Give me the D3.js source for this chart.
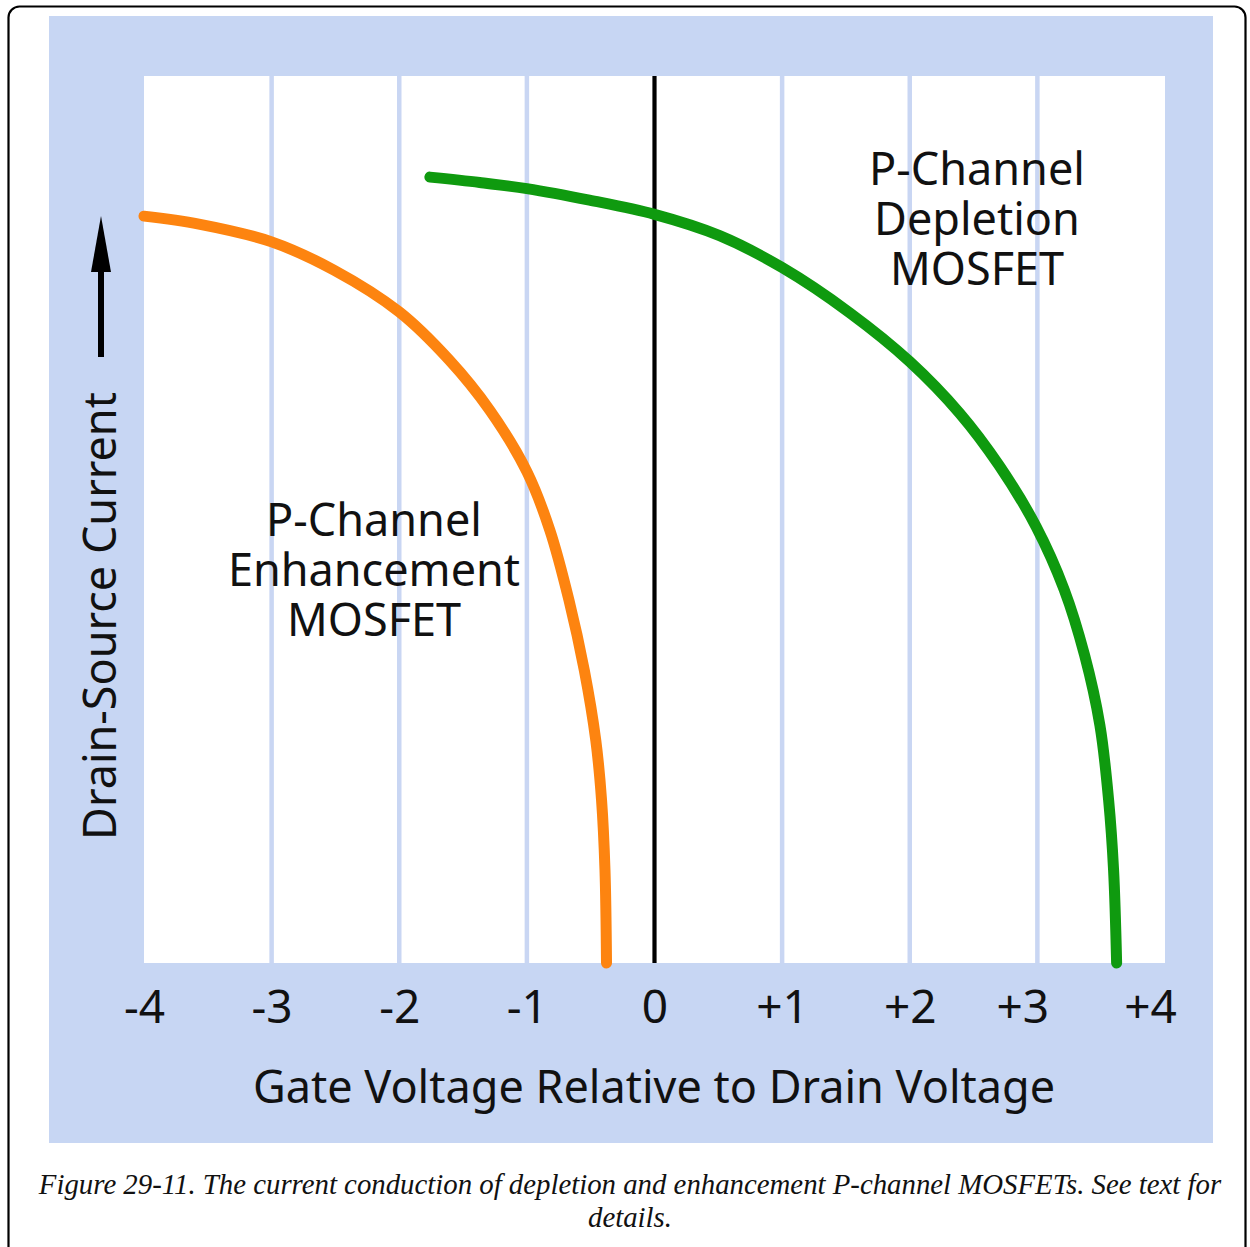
<!DOCTYPE html>
<html>
<head>
<meta charset="utf-8">
<script src="https://cdn.jsdelivr.net/npm/d3@7/dist/d3.min.js"></script>
<style>
  html, body { margin: 0; padding: 0; background: #ffffff; }
  svg { display: block; }
</style>
</head>
<body>
<div id="chart"></div>
<script>
// ---------------- data ----------------
const tickValues = [-4, -3, -2, -1, 0, 1, 2, 3, 4];
const tickLabels = ["-4", "-3", "-2", "-1", "0", "+1", "+2", "+3", "+4"];

// P-Channel Enhancement MOSFET (orange)
const enhVoltage = [-4.0, -3.57, -3.0, -2.51, -2.0, -1.61, -1.29, -1.0, -0.82, -0.67, -0.55, -0.46, -0.415, -0.388, -0.376];
const enhCurrent = [8.42, 8.33, 8.13, 7.81, 7.34, 6.80, 6.23, 5.54, 4.88, 4.09, 3.30, 2.51, 1.84, 1.05, 0.0];

// P-Channel Depletion MOSFET (green)
const depVoltage = [-1.76, -1.37, -1.0, -0.51, 0.0, 0.51, 1.0, 1.53, 2.0, 2.39, 2.70, 2.99, 3.21, 3.37, 3.49, 3.558, 3.597, 3.621];
const depCurrent = [8.86, 8.80, 8.73, 8.60, 8.44, 8.20, 7.84, 7.33, 6.78, 6.20, 5.61, 4.92, 4.21, 3.47, 2.68, 1.84, 1.05, 0.0];

const enhLabel = ["P-Channel", "Enhancement", "MOSFET"];
const depLabel = ["P-Channel", "Depletion", "MOSFET"];
const xTitle = "Gate Voltage Relative to Drain Voltage";
const yTitle = "Drain-Source Current";
const captionLines = [
  "Figure 29-11. The current conduction of depletion and enhancement P-channel MOSFETs. See text for",
  "details."
];

// ---------------- drawing ----------------
const W = 1250, H = 1247;
const panelBlue = "#c7d6f3";
const font = "'Noto Sans', 'Open Sans', sans-serif";

const svg = d3.select("#chart").append("svg")
  .attr("width", W).attr("height", H)
  .attr("viewBox", `0 0 ${W} ${H}`);

svg.append("rect").attr("width", W).attr("height", H).attr("fill", "#ffffff");

// outer frame
svg.append("rect")
  .attr("x", 8.5).attr("y", 6.5).attr("width", 1237).attr("height", 1260)
  .attr("rx", 11).attr("ry", 11)
  .attr("fill", "none").attr("stroke", "#000").attr("stroke-width", 2.2);

// blue panel
svg.append("rect")
  .attr("x", 49).attr("y", 16).attr("width", 1164).attr("height", 1127)
  .attr("fill", panelBlue);

const x = d3.scaleLinear().domain([-4, 4]).range([144, 1165]);
const y = d3.scaleLinear().domain([0, 10]).range([963, 76]);

// plot area
svg.append("rect")
  .attr("x", x(-4)).attr("y", y(10))
  .attr("width", x(4) - x(-4)).attr("height", y(0) - y(10))
  .attr("fill", "#ffffff");

// vertical grid lines
svg.append("g").selectAll("line")
  .data(tickValues.filter(v => v !== 0 && v !== -4 && v !== 4))
  .join("line")
  .attr("x1", d => x(d)).attr("x2", d => x(d))
  .attr("y1", y(10)).attr("y2", y(0))
  .attr("stroke", "#c9d6f3").attr("stroke-width", 4.5);

// zero line
svg.append("line")
  .attr("x1", x(0)).attr("x2", x(0))
  .attr("y1", y(10)).attr("y2", y(0))
  .attr("stroke", "#000").attr("stroke-width", 4.2);

// curves
const line = d3.line()
  .x(d => x(d[0])).y(d => y(d[1]))
  .curve(d3.curveCatmullRom.alpha(0.5));

svg.append("path")
  .datum(enhVoltage.map((v, i) => [v, enhCurrent[i]]))
  .attr("d", line)
  .attr("fill", "none").attr("stroke", "#fd8410")
  .attr("stroke-width", 11).attr("stroke-linecap", "round").attr("stroke-linejoin", "round");

svg.append("path")
  .datum(depVoltage.map((v, i) => [v, depCurrent[i]]))
  .attr("d", line)
  .attr("fill", "none").attr("stroke", "#0f9a0f")
  .attr("stroke-width", 11).attr("stroke-linecap", "round").attr("stroke-linejoin", "round");

// x axis tick labels
const axis = d3.axisBottom(x)
  .tickValues(tickValues)
  .tickFormat((d, i) => tickLabels[i])
  .tickSize(0).tickPadding(0);

const gx = svg.append("g")
  .attr("transform", `translate(0, ${y(0)})`)
  .call(axis);
gx.select(".domain").remove();
gx.selectAll("text")
  .attr("y", 60).attr("dy", 0)
  .attr("dx", d => d >= 3 ? -15 : 0)
  .attr("fill", "#111")
  .style("font-family", font).style("font-size", "46px");

// x title
svg.append("text")
  .attr("x", 654).attr("y", 1103)
  .attr("text-anchor", "middle")
  .attr("fill", "#111")
  .style("font-family", font).style("font-size", "45px")
  .text(xTitle);

// y title (rotated)
svg.append("text")
  .attr("transform", "translate(116, 616) rotate(-90)")
  .attr("text-anchor", "middle")
  .attr("fill", "#111")
  .style("font-family", font).style("font-size", "45px")
  .text(yTitle);

// arrow
svg.append("line")
  .attr("x1", 101).attr("x2", 101).attr("y1", 357).attr("y2", 268)
  .attr("stroke", "#000").attr("stroke-width", 6);
svg.append("path")
  .attr("d", "M101,216 L111,272 L91,272 Z")
  .attr("fill", "#000");

// curve labels
svg.append("g").selectAll("text")
  .data(enhLabel).join("text")
  .attr("x", 374).attr("y", (d, i) => 536 + i * 50)
  .attr("text-anchor", "middle").attr("fill", "#111")
  .style("font-family", font).style("font-size", "45px")
  .text(d => d);

svg.append("g").selectAll("text")
  .data(depLabel).join("text")
  .attr("x", 977).attr("y", (d, i) => 185 + i * 50)
  .attr("text-anchor", "middle").attr("fill", "#111")
  .style("font-family", font).style("font-size", "45px")
  .text(d => d);

// caption
svg.append("g").selectAll("text")
  .data(captionLines).join("text")
  .attr("x", 630).attr("y", (d, i) => 1194 + i * 33)
  .attr("text-anchor", "middle").attr("fill", "#111")
  .style("font-family", "'Liberation Serif', 'Times New Roman', serif")
  .style("font-style", "italic").style("font-size", "28.8px")
  .text(d => d);
</script>
</body>
</html>
